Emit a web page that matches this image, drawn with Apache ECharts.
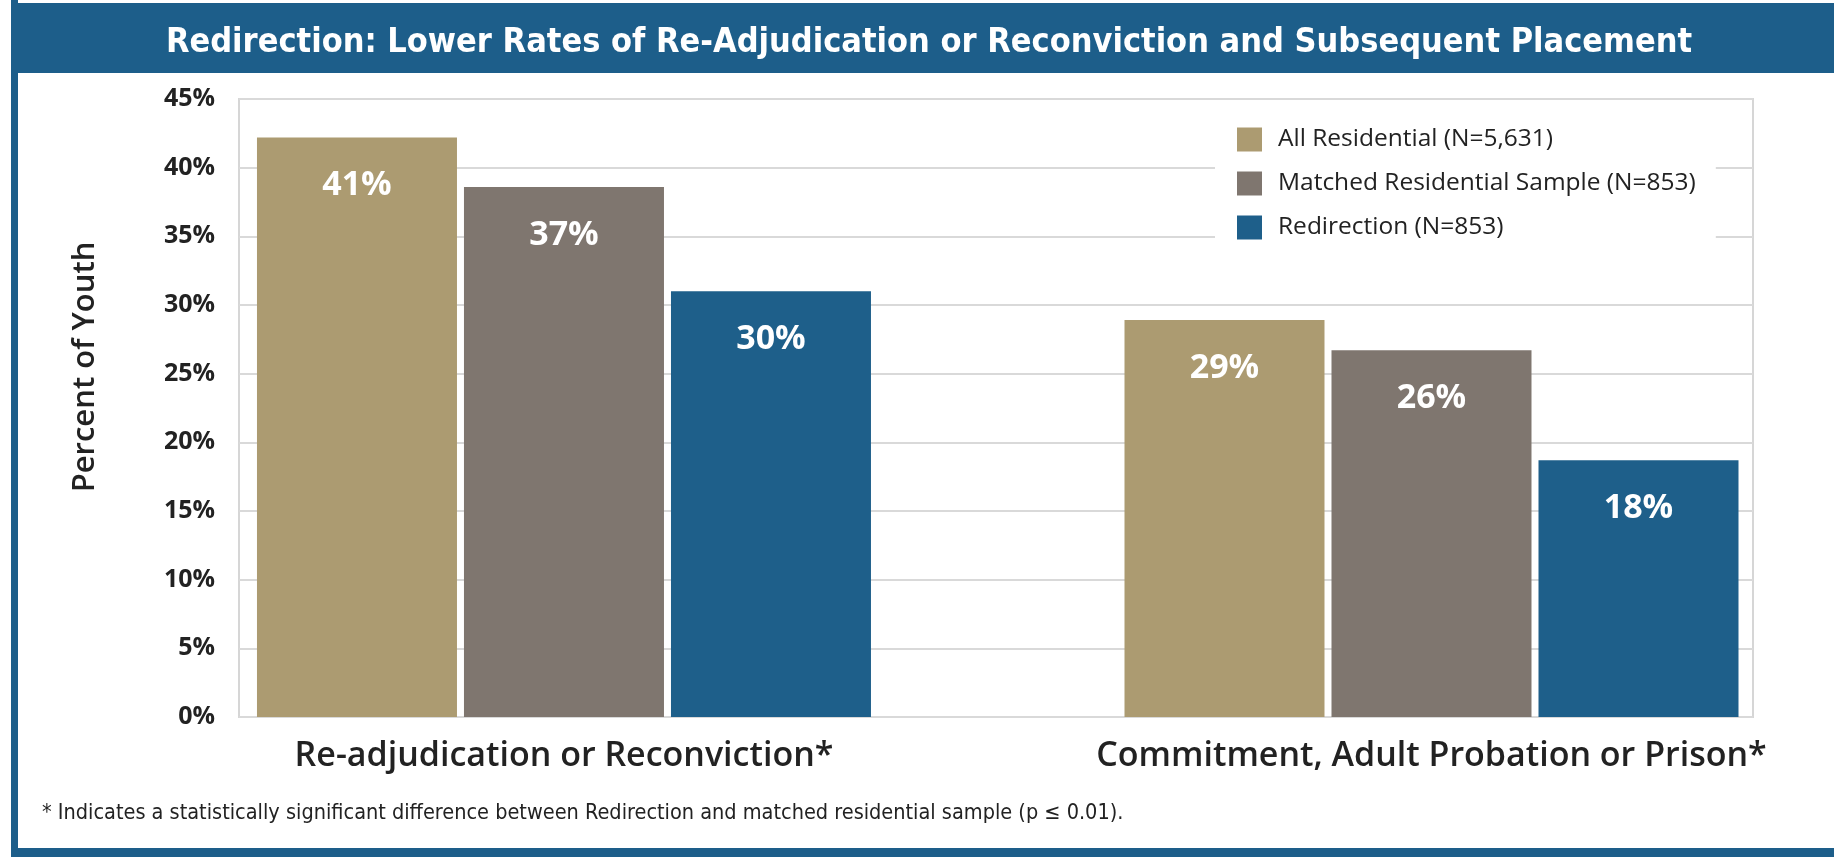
<!DOCTYPE html>
<html>
<head>
<meta charset="utf-8">
<script src="https://cdn.jsdelivr.net/npm/echarts@6/dist/echarts.min.js"></script>
<style>
html,body{margin:0;padding:0;background:#fff;}
#c{width:1834px;height:857px;}
</style>
</head>
<body>
<div id="c"></div>
<script>
// ---- data ----
const chartTitle = 'Redirection: Lower Rates of Re-Adjudication or Reconviction and Subsequent Placement';
const footnote = '* Indicates a statistically significant difference between Redirection and matched residential sample (p \u2264 0.01).';
const categories = ['Re-adjudication or Reconviction*', 'Commitment, Adult Probation or Prison*'];
const seriesNames = ['All Residential (N=5,631)', 'Matched Residential Sample (N=853)', 'Redirection (N=853)'];
// bar heights as drawn in the picture (percent)
const allResidential = [42.2, 28.9];
const matchedSample = [38.6, 26.7];
const redirection = [31.0, 18.7];
// printed labels on the bars
const allResidentialLabels = ['41%', '29%'];
const matchedSampleLabels = ['37%', '26%'];
const redirectionLabels = ['30%', '18%'];
const yTicks = [0, 5, 10, 15, 20, 25, 30, 35, 40, 45];
const yAxisName = 'Percent of Youth';

const colors = ['#ac9b71', '#7f766f', '#1e5f8a'];
const values = [allResidential, matchedSample, redirection];
const labels = [allResidentialLabels, matchedSampleLabels, redirectionLabels];

const FONT = '"Open Sans", Lato, sans-serif';
const NARROW = '"Liberation Sans Narrow", "DejaVu Sans Condensed", sans-serif';

const chart = echarts.init(document.getElementById('c'), null, {renderer: 'canvas'});

const series = values.map((vals, si) => ({
  name: seriesNames[si],
  type: 'bar',
  data: vals.map((v, i) => [i, v]),
  barWidth: 200,
  barGap: '3.5%',
  itemStyle: {color: colors[si]},
  label: {
    show: true,
    position: 'insideTop',
    distance: 31,
    color: '#ffffff',
    fontFamily: FONT,
    fontWeight: 'bold',
    fontSize: 34,
    formatter: (p) => labels[si][p.dataIndex]
  },
  emphasis: {disabled: true}
}));

chart.setOption({
  animation: false,
  backgroundColor: '#ffffff',
  color: colors,
  graphic: [
    {type: 'rect', shape: {x: 11, y: 3, width: 1823, height: 70}, style: {fill: '#1d5e8a'}, z: -1},
    {type: 'rect', shape: {x: 11, y: 0, width: 7, height: 857}, style: {fill: '#1d5e8a'}, z: -1},
    {type: 'rect', shape: {x: 11, y: 848, width: 1823, height: 9}, style: {fill: '#1d5e8a'}, z: -1}
  ],
  title: [
    {
      text: chartTitle,
      left: 924, top: 21, textAlign: 'center',
      textStyle: {color: '#ffffff', fontFamily: NARROW, fontWeight: 'bold', fontSize: 34}
    },
    {
      text: footnote,
      left: 37, top: 797,
      textStyle: {color: '#222222', fontFamily: NARROW, fontWeight: 'normal', fontSize: 21.5}
    }
  ],
  legend: {
    orient: 'vertical',
    left: 1215, top: 107,
    padding: [20, 20, 20, 22],
    backgroundColor: '#ffffff',
    itemWidth: 25, itemHeight: 24, itemGap: 19,
    icon: 'rect',
    selectedMode: false,
    textStyle: {color: '#222222', fontFamily: FONT, fontSize: 24.5, padding: [0, 0, 0, 11]},
    data: seriesNames,
    z: 10
  },
  grid: {
    left: 239, right: 81, top: 99, bottom: 140,
    show: true, borderColor: '#d6d6d6', borderWidth: 2,
    containLabel: false
  },
  xAxis: {
    type: 'value',
    min: -0.3746, max: 1.3706,
    splitLine: {show: false},
    axisLine: {show: false},
    axisTick: {show: false},
    axisLabel: {
      customValues: [0, 1],
      formatter: (v) => categories[Math.round(v)] || '',
      color: '#222222', fontFamily: FONT, fontSize: 34, fontWeight: 600, margin: 22
    }
  },
  yAxis: {
    type: 'value',
    min: yTicks[0], max: yTicks[yTicks.length - 1], interval: 5,
    name: yAxisName,
    nameLocation: 'middle',
    nameGap: 138,
    nameTextStyle: {color: '#222222', fontFamily: FONT, fontSize: 31, fontWeight: 600, padding: [0, 0, 0, 82]},
    axisLine: {show: false},
    axisTick: {show: false},
    splitLine: {lineStyle: {color: '#d9d9d9', width: 2}},
    axisLabel: {
      formatter: '{value}%',
      color: '#222222', fontFamily: FONT, fontWeight: 'bold', fontSize: 25, margin: 24
    }
  },
  series: series
});
</script>
</body>
</html>
